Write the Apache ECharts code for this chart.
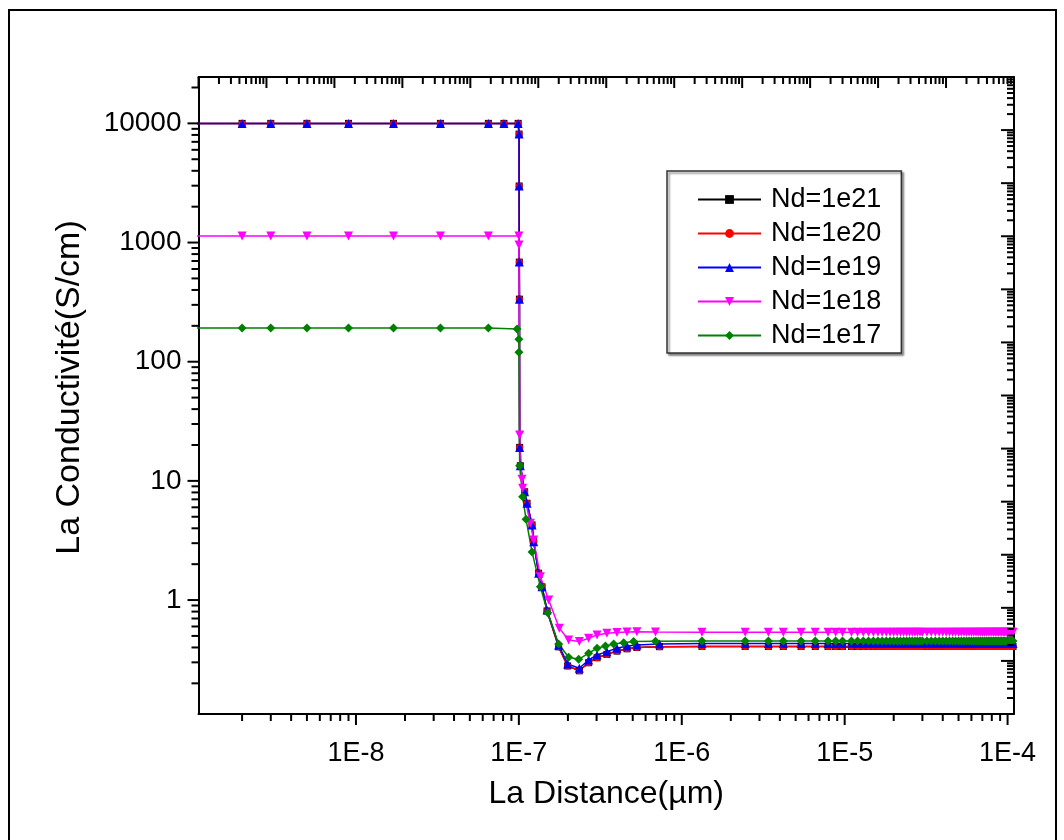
<!DOCTYPE html>
<html>
<head>
<meta charset="utf-8">
<script src="https://cdn.jsdelivr.net/npm/echarts@6/dist/echarts.min.js"></script>
<style>
html,body{margin:0;padding:0;background:#fff;}
#chart{width:1064px;height:840px;}
</style>
</head>
<body>
<div id="chart"></div>
<script>
// ---------- data ----------
const seriesNames = ['Nd=1e21', 'Nd=1e20', 'Nd=1e19', 'Nd=1e18', 'Nd=1e17'];

// x mesh shared by Nd=1e21 / 1e20 / 1e19 (plateau + drop)
const xA = [1e-9, 2e-9, 3e-9, 5e-9, 9e-9, 1.7e-8, 3.3e-8, 6.5e-8, 8.1e-8, 9.9e-8,
  1.003e-7, 1.004e-7, 1.006e-7, 1.008e-7, 1.011e-7, 1.021e-7, 1.085e-7, 1.122e-7,
  1.205e-7, 1.233e-7, 1.322e-7, 1.387e-7, 1.489e-7, 1.754e-7, 1.992e-7, 2.35e-7,
  2.68e-7, 3.02e-7, 3.47e-7, 4.0e-7, 4.61e-7, 5.3e-7, 7.3e-7];
const yBlackHead = [10000, 10000, 10000, 10000, 10000, 10000, 10000, 10000, 10000, 10000,
  8130, 2980, 685, 335, 19.1, 13.4, 8.1, 6.49, 4.27, 3.09, 1.68, 1.29, 0.81, 0.405,
  0.28, 0.255, 0.298, 0.328, 0.35, 0.373, 0.39, 0.4, 0.406];
const yRedHead = [10000, 10000, 10000, 10000, 10000, 10000, 10000, 10000, 10000, 10000,
  8130, 2980, 685, 335, 19.1, 13.4, 8.1, 6.49, 4.27, 3.09, 1.68, 1.29, 0.81, 0.405,
  0.28, 0.255, 0.298, 0.328, 0.35, 0.373, 0.39, 0.4, 0.406];
const yBlueHead = [10000, 10000, 10000, 10000, 10000, 10000, 10000, 10000, 10000, 10000,
  8130, 2980, 685, 335, 19.1, 13.4, 8.1, 6.49, 4.27, 3.09, 1.68, 1.29, 0.826, 0.42,
  0.291, 0.268, 0.314, 0.346, 0.369, 0.394, 0.412, 0.42, 0.428];

// Nd=1e18
const xMag = [1e-9, 2e-9, 3e-9, 5e-9, 9e-9, 1.7e-8, 3.3e-8, 6.5e-8, 1.0e-7, 1.002e-7,
  1.011e-7, 1.045e-7, 1.055e-7, 1.176e-7, 1.233e-7, 1.355e-7, 1.524e-7, 1.771e-7,
  2.02e-7, 2.35e-7, 2.68e-7, 3.02e-7, 3.47e-7, 4.0e-7, 4.61e-7, 5.3e-7, 6.9e-7];
const yMagHead = [1135, 1135, 1135, 1135, 1135, 1135, 1135, 1135, 1135, 955, 24.3, 10.3,
  8.67, 4.4, 3.19, 1.57, 1.0, 0.58, 0.463, 0.448, 0.478, 0.51, 0.526, 0.533, 0.54,
  0.543, 0.54];

// Nd=1e17
const xGreen = [1e-9, 2e-9, 3e-9, 5e-9, 9e-9, 1.7e-8, 3.3e-8, 6.5e-8, 9.75e-8, 1.0e-7,
  1.001e-7, 1.011e-7, 1.055e-7, 1.107e-7, 1.205e-7, 1.355e-7, 1.503e-7, 1.755e-7,
  2.02e-7, 2.33e-7, 2.68e-7, 3.02e-7, 3.4e-7, 3.82e-7, 4.4e-7, 5.06e-7, 6.9e-7];
const yGreenHead = [192, 192, 192, 192, 192, 192, 192, 192, 188, 154, 120, 13.4, 7.37,
  4.76, 2.53, 1.29, 0.784, 0.428, 0.331, 0.318, 0.358, 0.394, 0.412, 0.428, 0.439,
  0.448, 0.452];

// shared tail mesh (flat region, 68 points)
const xTail = [1.33e-6, 2.45e-6, 3.4e-6, 4.2e-6, 5.4e-6, 6.6e-6, 7.9e-6, 8.8e-6, 9.7e-6,
  1.1e-5, 1.2e-5, 1.3e-5, 1.4e-5, 1.5e-5, 1.6e-5, 1.7e-5, 1.8e-5, 1.9e-5, 2.0e-5,
  2.1e-5, 2.2e-5, 2.3e-5, 2.4e-5, 2.5e-5, 2.6e-5, 2.7e-5, 2.8e-5, 2.9e-5, 3.0e-5,
  3.2e-5, 3.4e-5, 3.6e-5, 3.8e-5, 4.0e-5, 4.2e-5, 4.4e-5, 4.6e-5, 4.8e-5, 5.0e-5,
  5.2e-5, 5.4e-5, 5.6e-5, 5.8e-5, 6.0e-5, 6.2e-5, 6.4e-5, 6.6e-5, 6.8e-5, 7.0e-5,
  7.2e-5, 7.4e-5, 7.6e-5, 7.8e-5, 8.0e-5, 8.2e-5, 8.4e-5, 8.6e-5, 8.8e-5, 9.0e-5,
  9.2e-5, 9.4e-5, 9.6e-5, 9.8e-5, 1.0e-4, 1.02e-4, 1.04e-4, 1.06e-4, 1.08e-4];
const yBlackTail = [0.408, 0.408, 0.408, 0.408, 0.408, 0.408, 0.408, 0.408, 0.408,
  0.408, 0.408, 0.408, 0.408, 0.408, 0.408, 0.408, 0.408, 0.408, 0.408,
  0.408, 0.408, 0.408, 0.408, 0.408, 0.408, 0.408, 0.408, 0.408, 0.408,
  0.408, 0.408, 0.408, 0.408, 0.408, 0.408, 0.408, 0.408, 0.408, 0.408,
  0.408, 0.408, 0.408, 0.408, 0.408, 0.408, 0.408, 0.408, 0.408, 0.408,
  0.408, 0.408, 0.408, 0.408, 0.408, 0.408, 0.408, 0.408, 0.408, 0.408,
  0.408, 0.408, 0.408, 0.408, 0.408, 0.408, 0.408, 0.408, 0.408];
const yRedTail = [0.408, 0.408, 0.408, 0.408, 0.408, 0.408, 0.408, 0.408, 0.408,
  0.408, 0.408, 0.408, 0.408, 0.408, 0.408, 0.408, 0.408, 0.408, 0.408,
  0.408, 0.408, 0.408, 0.408, 0.408, 0.408, 0.408, 0.408, 0.408, 0.408,
  0.408, 0.408, 0.408, 0.408, 0.408, 0.408, 0.408, 0.408, 0.408, 0.408,
  0.408, 0.408, 0.408, 0.408, 0.408, 0.408, 0.408, 0.408, 0.408, 0.408,
  0.408, 0.408, 0.408, 0.408, 0.408, 0.408, 0.408, 0.408, 0.408, 0.408,
  0.408, 0.408, 0.408, 0.408, 0.408, 0.408, 0.408, 0.408, 0.408];
const yBlueTail = [0.432, 0.432, 0.432, 0.432, 0.432, 0.432, 0.432, 0.432, 0.432,
  0.432, 0.432, 0.432, 0.432, 0.432, 0.432, 0.432, 0.432, 0.432, 0.432,
  0.432, 0.432, 0.432, 0.432, 0.432, 0.432, 0.432, 0.432, 0.432, 0.432,
  0.432, 0.432, 0.432, 0.432, 0.432, 0.432, 0.432, 0.432, 0.432, 0.432,
  0.432, 0.432, 0.432, 0.432, 0.432, 0.432, 0.432, 0.432, 0.432, 0.432,
  0.432, 0.432, 0.432, 0.432, 0.432, 0.432, 0.432, 0.432, 0.432, 0.432,
  0.432, 0.432, 0.432, 0.432, 0.432, 0.432, 0.432, 0.432, 0.432];
const yMagTail = [0.536, 0.536, 0.536, 0.536, 0.536, 0.536, 0.536, 0.536, 0.536,
  0.536, 0.536, 0.536, 0.536, 0.536, 0.536, 0.536, 0.536, 0.536, 0.536,
  0.536, 0.536, 0.536, 0.536, 0.536, 0.536, 0.536, 0.536, 0.536, 0.536,
  0.536, 0.536, 0.536, 0.536, 0.536, 0.536, 0.536, 0.536, 0.536, 0.536,
  0.536, 0.536, 0.536, 0.536, 0.536, 0.536, 0.536, 0.536, 0.536, 0.536,
  0.536, 0.536, 0.536, 0.536, 0.536, 0.536, 0.536, 0.536, 0.536, 0.536,
  0.536, 0.536, 0.536, 0.536, 0.536, 0.536, 0.536, 0.536, 0.536];
const yGreenTail = [0.454, 0.454, 0.454, 0.454, 0.454, 0.454, 0.454, 0.454, 0.454,
  0.454, 0.454, 0.454, 0.454, 0.454, 0.454, 0.454, 0.454, 0.454, 0.454,
  0.454, 0.454, 0.454, 0.454, 0.454, 0.454, 0.454, 0.454, 0.454, 0.454,
  0.454, 0.454, 0.454, 0.454, 0.454, 0.454, 0.454, 0.454, 0.454, 0.454,
  0.454, 0.454, 0.454, 0.454, 0.454, 0.454, 0.454, 0.454, 0.454, 0.454,
  0.454, 0.454, 0.454, 0.454, 0.454, 0.454, 0.454, 0.454, 0.454, 0.454,
  0.454, 0.454, 0.454, 0.454, 0.454, 0.454, 0.454, 0.454, 0.454];

// axis ranges
const xMin = 1.08e-9, xMax = 1.095e-4;
const yMin = 0.1106, yMax = 24500;
// top / right mirror axes (12 decades each)
const topMin = 1e-16, topMax = 1e-4;
const rightMin = 1e-8, rightMax = 1e4;

// ---------- helpers ----------
function pairs(xs, ys) { return xs.map((x, i) => [x, ys[i]]); }
function logTickValues(min, max) {
  const out = [];
  const e0 = Math.floor(Math.log10(min)), e1 = Math.ceil(Math.log10(max));
  for (let e = e0; e <= e1; e++) {
    for (let k = 1; k <= 9; k++) {
      const v = k * Math.pow(10, e);
      if (v >= min * 0.99999 && v <= max * 1.00001) out.push([v, k === 1 ? 1 : 0]);
    }
  }
  return out;
}
function decadeLabel(v, style) {
  const e = Math.log10(v);
  const r = Math.round(e);
  if (Math.abs(e - r) > 1e-6) return '';
  if (style === 'E') return '1E' + r;
  return String(Math.round(Math.pow(10, r)));
}

const FONT = "'Liberation Sans', Arial, sans-serif";
const tickStyle = { stroke: '#000', lineWidth: 2 };

function tickSeries(kind) {
  let data, xi = 0, yi = 0;
  if (kind === 'bottom') data = logTickValues(xMin, xMax).map(t => [t[0], yMin, t[1]]);
  if (kind === 'top') { xi = 1; data = logTickValues(topMin, topMax).map(t => [t[0], yMin, t[1]]); }
  if (kind === 'left') data = logTickValues(yMin, yMax).map(t => [xMin, t[0], t[1]]);
  if (kind === 'right') { yi = 1; data = logTickValues(rightMin, rightMax).map(t => [xMin, t[0], t[1]]); }
  return {
    type: 'custom', silent: true, xAxisIndex: xi, yAxisIndex: yi, z: 5,
    encode: { x: 0, y: 1 },
    data: data,
    renderItem: function (params, api) {
      const p = api.coord([api.value(0), api.value(1)]);
      const cs = params.coordSys;
      const major = api.value(2) === 1;
      let shape;
      if (kind === 'bottom') { const y0 = cs.y + cs.height; shape = { x1: p[0], y1: y0, x2: p[0], y2: y0 + (major ? 11 : 7) }; }
      if (kind === 'top') { const y0 = cs.y; shape = { x1: p[0], y1: y0, x2: p[0], y2: y0 + (major ? 11 : 7) }; }
      if (kind === 'left') { const x0 = cs.x; shape = { x1: x0, y1: p[1], x2: x0 - (major ? 11 : 7), y2: p[1] }; }
      if (kind === 'right') { const x0 = cs.x + cs.width; shape = { x1: x0, y1: p[1], x2: x0 - (major ? 13 : 7), y2: p[1] }; }
      return { type: 'line', shape: shape, style: tickStyle };
    }
  };
}

function lineSeries(name, color, symbol, size, rotate, xs, ys) {
  return {
    name: name, type: 'line', xAxisIndex: 0, yAxisIndex: 0,
    data: pairs(xs, ys),
    symbol: symbol, symbolSize: size, symbolRotate: rotate,
    showAllSymbol: true,
    lineStyle: { color: color, width: 1.5 },
    itemStyle: { color: color, borderWidth: 0 },
    emphasis: { disabled: true },
    animation: false, z: 3
  };
}

const chart = echarts.init(document.getElementById('chart'), null, { renderer: 'canvas' });
chart.setOption({
  animation: false,
  backgroundColor: '#fff',
  textStyle: { fontFamily: FONT },
  graphic: [{
    type: 'rect', silent: true, z: -10,
    shape: { x: 9, y: 10, width: 1047, height: 850 },
    style: { fill: 'none', stroke: '#000', lineWidth: 2 }
  }],
  grid: { left: 198.5, top: 77, right: 50, bottom: 126, containLabel: false, outerBoundsMode: 'none' },
  legend: {
    orient: 'vertical', left: 667, top: 171,
    padding: [15, 20, 4, 30],
    itemWidth: 63, itemHeight: 11, itemGap: 7,
    borderColor: '#333', borderWidth: 1.5, backgroundColor: '#fff',
    shadowColor: 'rgba(0,0,0,0.45)', shadowBlur: 2, shadowOffsetX: 2, shadowOffsetY: 2,
    textStyle: { fontSize: 27, color: '#000', fontFamily: FONT, padding: [0, 0, 0, 5] },
    data: seriesNames
  },
  xAxis: [{
    type: 'log', min: xMin, max: xMax, position: 'bottom',
    axisLine: { show: true, lineStyle: { color: '#000', width: 2 } },
    axisTick: { show: false }, minorTick: { show: false }, splitLine: { show: false },
    axisLabel: { color: '#000', fontSize: 27, fontFamily: FONT, margin: 26,
      formatter: v => decadeLabel(v, 'E') },
    name: 'La Distance(µm)', nameLocation: 'middle', nameGap: 64,
    nameTextStyle: { fontSize: 32, color: '#000', fontFamily: FONT }
  }, {
    type: 'log', min: topMin, max: topMax, position: 'top',
    axisLine: { show: true, lineStyle: { color: '#000', width: 2 } },
    axisTick: { show: false }, axisLabel: { show: false }, splitLine: { show: false }
  }],
  yAxis: [{
    type: 'log', min: yMin, max: yMax, position: 'left',
    axisLine: { show: true, lineStyle: { color: '#000', width: 2 } },
    axisTick: { show: false }, minorTick: { show: false }, splitLine: { show: false },
    axisLabel: { color: '#000', fontSize: 28, fontFamily: FONT, margin: 17,
      formatter: v => decadeLabel(v, 'N') },
    name: 'La Conductivité(S/cm)', nameLocation: 'middle', nameGap: 112,
    nameTextStyle: { fontSize: 34, color: '#000', fontFamily: FONT, padding: [0, 0, 0, 16] }
  }, {
    type: 'log', min: rightMin, max: rightMax, position: 'right',
    axisLine: { show: true, lineStyle: { color: '#000', width: 2 } },
    axisTick: { show: false }, axisLabel: { show: false }, splitLine: { show: false }
  }],
  series: [
    lineSeries('Nd=1e21', '#000000', 'rect', 7, 0, xA.concat(xTail), yBlackHead.concat(yBlackTail)),
    lineSeries('Nd=1e20', '#ff0000', 'circle', 7, 0, xA.concat(xTail), yRedHead.concat(yRedTail)),
    lineSeries('Nd=1e19', '#0000ff', 'triangle', 9, 0, xA.concat(xTail), yBlueHead.concat(yBlueTail)),
    lineSeries('Nd=1e18', '#ff00ff', 'triangle', 9, 180, xMag.concat(xTail), yMagHead.concat(yMagTail)),
    lineSeries('Nd=1e17', '#008000', 'diamond', 9, 0, xGreen.concat(xTail), yGreenHead.concat(yGreenTail)),
    tickSeries('bottom'), tickSeries('top'), tickSeries('left'), tickSeries('right')
  ]
});
</script>
</body>
</html>
